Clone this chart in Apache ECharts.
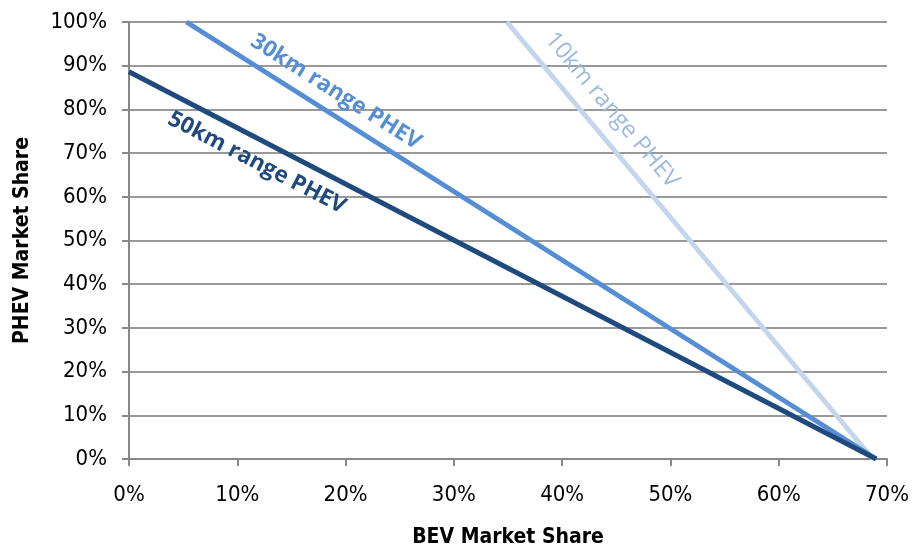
<!DOCTYPE html>
<html>
<head>
<meta charset="utf-8">
<script src="https://cdn.jsdelivr.net/npm/echarts@6/dist/echarts.min.js"></script>
<style>
html,body{margin:0;padding:0;background:#fff;}
#chart{width:912px;height:546px;}
</style>
</head>
<body>
<div id="chart"></div>
<script>
// BEV share (%) vs PHEV share (%) endpoints for each PHEV range
const range50km = [[0, 88.6], [69, 0]];
const range30km = [[5.3, 100], [69, 0]];
const range10km = [[34.9, 100], [68.7, 0]];

const seriesNames = ['50km range PHEV', '30km range PHEV', '10km range PHEV'];
const xTicks = [0, 10, 20, 30, 40, 50, 60, 70];
const yTicks = [0, 10, 20, 30, 40, 50, 60, 70, 80, 90, 100];

const FONT = '"Liberation Sans Narrow", "DejaVu Sans Condensed", "Open Sans", sans-serif';
const colors = ['#1F4A7E', '#558ED5', '#C3D6EE'];
const labelColors = ['#1F4A7E', '#558ED5', '#9DB9DF'];

// label anchor (data coords) and rotation for each line's text
const labelSpots = [
  { coord: [11.8, 67.8], rotate: -27.4, weight: 'bold', size: 22.5 },
  { coord: [19.1, 84.0], rotate: -32.3, weight: 'bold', size: 22.5 },
  { coord: [44.6, 79.8], rotate: -50.1, weight: 'normal', size: 23.5 }
];

const datasets = [range50km, range30km, range10km];

const chart = echarts.init(document.getElementById('chart'), null, { renderer: 'canvas' });

const series = datasets.map((d, i) => ({
  name: seriesNames[i],
  type: 'line',
  data: d,
  symbol: 'none',
  lineStyle: { color: colors[i], width: 5 },
  z: 3 - i + 2,
  markPoint: {
    symbol: 'circle',
    symbolSize: 1,
    itemStyle: { color: 'rgba(0,0,0,0)' },
    label: {
      show: true,
      formatter: seriesNames[i],
      rotate: labelSpots[i].rotate,
      color: labelColors[i],
      fontFamily: 'Open Sans, sans-serif',
      fontSize: labelSpots[i].size,
      fontWeight: labelSpots[i].weight,
      position: 'inside'
    },
    data: [{ coord: labelSpots[i].coord }]
  }
}));

chart.setOption({
  animation: false,
  grid: { left: 129, right: 25, top: 22, bottom: 87, outerBoundsMode: 'none', containLabel: false },
  xAxis: {
    type: 'value',
    min: 0, max: 70, interval: 10,
    name: 'BEV Market Share',
    nameLocation: 'middle',
    nameGap: 68,
    nameTextStyle: { fontFamily: FONT, fontSize: 21, fontWeight: 'bold', color: '#000' },
    axisLine: { show: true, lineStyle: { color: '#888', width: 2 } },
    axisTick: { show: true, length: 7, lineStyle: { color: '#888', width: 2 } },
    axisLabel: { fontFamily: FONT, fontSize: 22, color: '#000', margin: 25,
      formatter: v => xTicks.includes(v) ? v + '%' : '' },
    splitLine: { show: false }
  },
  yAxis: {
    type: 'value',
    min: 0, max: 100, interval: 10,
    name: 'PHEV Market Share',
    nameLocation: 'middle',
    nameGap: 96,
    nameRotate: 90,
    nameTextStyle: { fontFamily: FONT, fontSize: 21, fontWeight: 'bold', color: '#000' },
    axisLine: { show: true, lineStyle: { color: '#888', width: 2 } },
    axisTick: { show: true, length: 7, lineStyle: { color: '#888', width: 2 } },
    axisLabel: { fontFamily: FONT, fontSize: 22, color: '#000', margin: 22,
      formatter: v => yTicks.includes(v) ? v + '%' : '' },
    splitLine: { show: true, lineStyle: { color: '#999', width: 2 } }
  },
  series: series
});
</script>
</body>
</html>
